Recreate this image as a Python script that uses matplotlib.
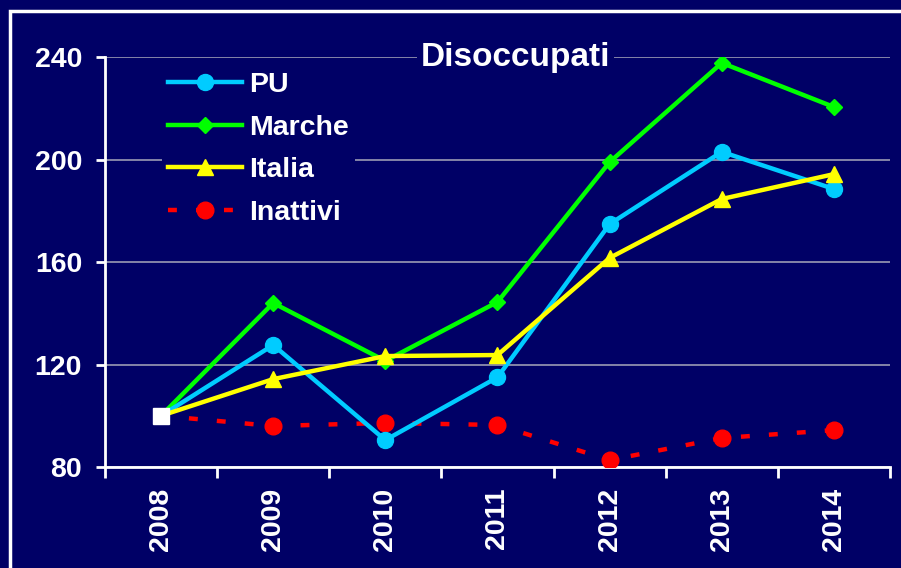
import matplotlib
matplotlib.use('Agg')
import matplotlib.pyplot as plt
from matplotlib.patches import Rectangle
from matplotlib.ticker import FixedLocator

plt.rcParams['font.family'] = ['Liberation Sans', 'DejaVu Sans']
plt.rcParams['font.weight'] = 'bold'

years = ['2008', '2009', '2010', '2011', '2012', '2013', '2014']
pu = [100, 127.6, 90.5, 115, 174.8, 203, 188.5]
marche = [100, 144, 121.4, 144.4, 199, 237.7, 220.5]
italia = [100, 114.3, 123.3, 123.7, 161.6, 184.6, 194.3]
inattivi = [100, 96, 97.2, 96.4, 82.7, 91.3, 94.4]
base = 100

bg = '#000066'
fig = plt.figure(figsize=(9.01, 5.68), dpi=100, facecolor=bg)
ax = fig.add_axes([0.1165, 0.1778, 0.8713, 0.7218], facecolor=bg)

# outer white frame
fig.patches.append(Rectangle((10 / 901, -0.1), 1.2, 1 - 11 / 568 + 0.1,
                             transform=fig.transFigure, fill=False,
                             edgecolor='white', linewidth=2.5))

x = list(range(len(years)))
ax.plot(x, pu, color='#00ccff', lw=3.2, marker='o', ms=11.5, markevery=range(1, 7), label='PU', zorder=4)
ax.plot(x, marche, color='#00ff00', lw=3.2, marker='D', ms=8.5, markevery=range(1, 7), label='Marche', zorder=3)
ax.plot(x, italia, color='#ffff00', lw=3.2, marker='^', ms=12, markevery=range(1, 7), label='Italia', zorder=5)
ax.plot(x, inattivi, color='#ff0000', lw=3.2, ls=(0, (2.0, 4.3)), marker='o', ms=12,
        markevery=range(1, 7), label='Inattivi', zorder=3)
ax.plot([0], [base], ls='none', marker='s', ms=11.5, mfc='white', mec='white', zorder=6)

ax.set_xlim(-0.5, 6.5)
ax.set_ylim(80, 240)
ax.set_yticks([80, 120, 160, 200, 240])
ax.set_xticks(x)
ax.set_xticklabels(years, rotation=90, color='white', fontsize=20.5, fontweight='bold')
ax.xaxis.set_minor_locator(FixedLocator([i - 0.5 for i in range(8)]))
ax.tick_params(axis='x', which='major', length=0, pad=15)
ax.tick_params(axis='x', which='minor', length=8, width=2, color='white')
ax.tick_params(axis='y', length=6.5, width=2, color='white', labelcolor='white', labelsize=20.5, pad=10)
for lbl in ax.get_yticklabels():
    lbl.set_fontweight('bold')

ax.grid(axis='y', color='#9a9ab4', lw=1.2)
ax.set_axisbelow(True)
for s in ['top', 'right']:
    ax.spines[s].set_visible(False)
for s in ['left', 'bottom']:
    ax.spines[s].set_color('white')
    ax.spines[s].set_linewidth(2)

ax.text(0.523, 1.0, 'Disoccupati', transform=ax.transAxes, ha='center', va='center',
        color='white', fontsize=24, fontweight='bold', zorder=7,
        bbox=dict(facecolor=bg, edgecolor='none', pad=3))

leg = ax.legend(loc='upper left', bbox_to_anchor=(0.055, 1.012), frameon=True,
                facecolor=bg, edgecolor='none', framealpha=1, fancybox=False,
                fontsize=20.5, handlelength=2.6, handletextpad=0.25, labelspacing=0.58,
                borderpad=0.2)
leg.set_zorder(7)
for t in leg.get_texts():
    t.set_color('white')
    t.set_fontweight('bold')

fig.savefig('out.png', dpi=100, facecolor=bg)
